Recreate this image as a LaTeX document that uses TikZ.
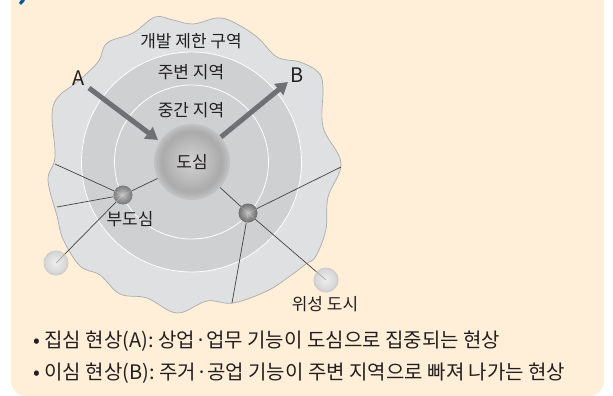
\documentclass[tikz,border=0pt]{standalone}
\usepackage{fontspec}
\setmainfont{Noto Sans CJK KR}
\usetikzlibrary{arrows.meta}
\definecolor{paper}{HTML}{FFEFD8}
\definecolor{zoneA}{HTML}{DFE0E2}
\definecolor{zoneB}{HTML}{CFD0D2}
\definecolor{edgeG}{HTML}{A9ABAE}
\definecolor{arrowG}{HTML}{6F7073}
\definecolor{inkT}{HTML}{231F20}
\definecolor{markBlue}{HTML}{0B5A9E}
% orb: centre, radius, edge %, shoulder %, centre % of black, drawn as concentric discs
\newcommand\orbdisc[5]{%
 \foreach \i in {0,...,24}{%
  \pgfmathsetmacro\tt{\i/24}%
  \pgfmathsetmacro\pc{\tt<0.18 ? #3+(#4-#3)*\tt/0.18 : #4+(#5-#4)*(\tt-0.18)/0.82}%
  \fill[black!\pc!white] #1 circle[radius=#2*(1-\tt)];
 }}
\tikzset{
 x=1pt,y=-1pt,
 ring/.style={circle,inner sep=0pt,draw=white,line width=0.8pt,fill=zoneB},
 label/.style={font=\fontsize{17}{19}\selectfont,text=inkT,inner sep=0pt},
 letter/.style={font=\fontsize{20}{22}\selectfont,text=inkT,inner sep=0pt},
 foot/.style={font=\fontsize{20}{22}\selectfont,text=inkT,inner sep=0pt,anchor=west},
 link/.style={draw=inkT!85,line width=0.7pt},
 inlink/.style={draw=black!40,line width=0.5pt},
 hubline/.style={draw=white,draw opacity=0.3,line width=0.4pt},
 flow/.style={draw=arrowG,line width=5pt,-{Triangle[length=12pt,width=14pt]}},
 hub/.style={circle,minimum size=19pt,inner sep=0pt},
 sat/.style={circle,minimum size=25pt,inner sep=0pt},
 core/.style={circle,minimum size=76pt,inner sep=0pt,text=inkT,font=\fontsize{17}{19}\selectfont},
}
\begin{document}
\begin{tikzpicture}
\useasboundingbox (0,0) rectangle (613,396);
\fill[paper] (11,0) -- (604,0) [rounded corners=15pt] -- (604,396) -- (11,396) [sharp corners] -- cycle;
\fill[markBlue] (19,3) -- (21,0) -- (25,0) -- (24,2) -- (21,5) -- cycle;
\draw[draw=edgeG,fill=zoneA,line width=0.7pt] plot[smooth cycle,tension=0.6] coordinates {
(107,43) (133,33) (155,17) (173,20) (193,24) (217,18) (233,22) (257,37) (277,57) (300,62)
(318,72) (323,87) (323,127) (341,163) (328,197) (326,229) (316,256) (306,264) (290,276) (267,291)
(233,303) (207,301) (177,313) (147,298) (120,294) (100,275) (80,266) (63,239) (57,216) (48,180) (55,157) (52,115) (58,97) (77,82) (98,62)};
\node[ring,minimum size=220pt] (outerring) at (191.5,162) {};
\node[ring,minimum size=154pt] (midring) at (191.5,162) {};
\orbdisc{(192,162)}{38}{24}{33}{17}
\orbdisc{(123,195)}{9.5}{52}{46}{22}
\orbdisc{(248,213)}{9.5}{56}{50}{22}
\orbdisc{(56,263)}{12.5}{20}{15}{6}
\orbdisc{(326,280)}{12.5}{20}{15}{6}
\node[core] (city) at (192,162) {도심};
\node[hub] (subA) at (123,195) {};
\node[hub] (subB) at (248,213) {};
\node[sat] (satA) at (56,263) {};
\node[sat] (satB) at (326,280) {};
\coordinate (endA) at (55,164);
\coordinate (endB) at (57,207);
\coordinate (endC) at (341,167);
\coordinate (endD) at (232,303);
\draw[link] (subA) -- (endA);
\draw[link] (subA) -- (endB);
\draw[link] (subA) -- (city);
\draw[link] (subA) -- (satA);
\draw[inlink] (satA.45) -- (satA.center);
\draw[link] (subB) -- (city);
\draw[link] (subB) -- (endC);
\draw[link] (subB) -- (endD);
\draw[link] (subB) -- (satB);
\draw[inlink] (satB.139) -- (satB.center);
\foreach \a in {156,190,27,225} \draw[hubline] (subA.center) -- (subA.\a);
\foreach \a in {138,26,260,-41} \draw[hubline] (subB.center) -- (subB.\a);
\node[label] (lbl1) at (191,41) {개발 제한 구역};
\node[label] (lbl2) at (191,72) {주변 지역};
\node[label] (lbl3) at (191,110) {중간 지역};
\node[label] (lbl4) at (130,219) {부도심};
\node[label] (lbl5) at (325,304) {위성 도시};
\node[letter] (markA) at (79,78) {A};
\node[letter] (markB) at (297,75) {B};
\coordinate (fromA) at (89,88);
\coordinate (toA) at (158,140);
\coordinate (fromB) at (221,137);
\coordinate (toB) at (288,82);
\draw[flow] (fromA) -- (toA);
\draw[flow] (fromB) -- (toB);
\node[foot] (lineA) at (33,341) {• 집심 현상(A): 상업·업무 기능이 도심으로 집중되는 현상};
\node[foot] (lineB) at (33,373) {• 이심 현상(B): 주거·공업 기능이 주변 지역으로 빠져 나가는 현상};
\end{tikzpicture}
\end{document}
